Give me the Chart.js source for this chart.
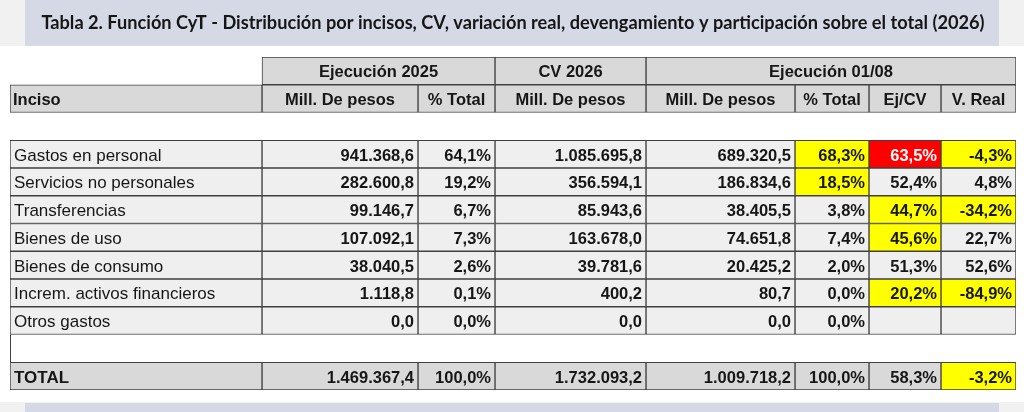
<!DOCTYPE html>
<html>
<head>
<meta charset="utf-8">
<script src="https://cdn.jsdelivr.net/npm/chart.js@4.4.1/dist/chart.umd.min.js"></script>
<style>
html,body{margin:0;padding:0;background:#ffffff;}
#wrap{width:1024px;height:412px;position:relative;}
</style>
</head>
<body>
<div id="wrap"><canvas id="c"></canvas></div>
<script>
// ---------------- DATA ----------------
const titleText = 'Tabla 2. Función CyT - Distribución por incisos, CV, variación real, devengamiento y participación sobre el total (2026)';
const groupHeaders = ['Ejecución 2025', 'CV 2026', 'Ejecución 01/08'];
const columnHeaders = ['Inciso', 'Mill. De pesos', '% Total', 'Mill. De pesos', 'Mill. De pesos', '% Total', 'Ej/CV', 'V. Real'];
const categories = ['Gastos en personal', 'Servicios no personales', 'Transferencias', 'Bienes de uso', 'Bienes de consumo', 'Increm. activos financieros', 'Otros gastos'];
const ejec2025 = [941368.6, 282600.8, 99146.7, 107092.1, 38040.5, 1118.8, 0.0];
const pct2025 = [64.1, 19.2, 6.7, 7.3, 2.6, 0.1, 0.0];
const cv2026 = [1085695.8, 356594.1, 85943.6, 163678.0, 39781.6, 400.2, 0.0];
const ejec0108 = [689320.5, 186834.6, 38405.5, 74651.8, 20425.2, 80.7, 0.0];
const pct0108 = [68.3, 18.5, 3.8, 7.4, 2.0, 0.0, 0.0];
const ejCv = [63.5, 52.4, 44.7, 45.6, 51.3, 20.2, null];
const vReal = [-4.3, 4.8, -34.2, 22.7, 52.6, -84.9, null];
const totalLabel = 'TOTAL';
const totalValues = [1469367.4, 100.0, 1732093.2, 1009718.2, 100.0, 58.3, -3.2];

// ---------------- STYLE / LAYOUT ----------------
const colWidths = [252, 156, 77, 151, 149, 74, 72, 75];
const colIsPct = [false, false, true, false, false, true, true, true];
const YEL = '#ffff00', RED = '#ff0000';
const hlPct0108 = [YEL, YEL, null, null, null, null, null];
const hlEjCv = [RED, null, YEL, YEL, null, YEL, null];
const hlVReal = [YEL, null, YEL, null, null, YEL, null];
const hlTotal = [null, null, null, null, null, null, YEL];
const HEAD_BG = '#d9d9d9', BODY_BG = '#efefef', TOTAL_BG = '#d9d9d9';
const BORDER = '#404040';
const TXT = '#161616';
const FONT = "'Liberation Sans', Arial, sans-serif";
const FS = 16.5;
const FS_LABEL = 17;

const edges = [0];
colWidths.forEach(w => edges.push(edges[edges.length - 1] + w));
const nCols = colWidths.length;

// rows: group header, column header, spacer, body..., spacer, total
const rowKeys = ['grp', 'hdr', 'sp1'].concat(categories.map((c, i) => 'b' + i)).concat(['sp2', 'tot']);
const bodyCols = categories.map((c, i) => [ejec2025[i], pct2025[i], cv2026[i], ejec0108[i], pct0108[i], ejCv[i], vReal[i]]);
const bodyHl = categories.map((c, i) => [null, null, null, null, hlPct0108[i], hlEjCv[i], hlVReal[i]]);

// group header spans (column index ranges)
const groupSpans = [[1, 3], [3, 4], [4, 8]];

function fmtNum(v) {
  const s = Math.abs(v).toFixed(1);
  const parts = s.split('.');
  const ip = parts[0].replace(/\B(?=(\d{3})+(?!\d))/g, '.');
  return (v < 0 ? '-' : '') + ip + ',' + parts[1];
}
function fmtCell(v, col) {
  if (v === null || v === undefined) return '';
  return fmtNum(v) + (colIsPct[col] ? '%' : '');
}

// build one floating-bar dataset per column
const datasets = [];
for (let c = 0; c < nCols; c++) {
  const data = [], bg = [];
  rowKeys.forEach((k, r) => {
    if (k === 'grp') {
      const span = groupSpans.find(s => s[0] === c);
      if (span) { data.push([edges[span[0]], edges[span[1]]]); bg.push(HEAD_BG); }
      else { data.push(null); bg.push('rgba(0,0,0,0)'); }
    } else if (k === 'hdr') {
      data.push([edges[c], edges[c + 1]]); bg.push(HEAD_BG);
    } else if (k === 'sp1' || k === 'sp2') {
      data.push(null); bg.push('rgba(0,0,0,0)');
    } else if (k === 'tot') {
      data.push([edges[c], edges[c + 1]]);
      bg.push(c > 0 && hlTotal[c - 1] ? hlTotal[c - 1] : TOTAL_BG);
    } else {
      const i = r - 3;
      data.push([edges[c], edges[c + 1]]);
      bg.push(c > 0 && bodyHl[i][c - 1] ? bodyHl[i][c - 1] : BODY_BG);
    }
  });
  datasets.push({
    data: data,
    backgroundColor: bg,
    borderColor: BORDER,
    borderWidth: 1,
    borderSkipped: false,
    grouped: false,
    barPercentage: 1,
    categoryPercentage: 1
  });
}

const bandPlugin = {
  id: 'band',
  beforeDraw(chart) {
    const ctx = chart.ctx, W = chart.width, H = chart.height;
    const a = chart.chartArea;
    ctx.save();
    ctx.fillStyle = '#f1f1f1';
    ctx.fillRect(0, 0, W, a.top - 11);
    ctx.fillRect(0, a.bottom + 12, W, H - a.bottom - 12);
    ctx.fillStyle = '#d5d9e6';
    ctx.fillRect(a.left + 15, 0, a.right - a.left - 32, a.top - 11);
    ctx.fillRect(a.left + 15, a.bottom + 13, a.right - a.left - 32, H - a.bottom - 13);
    ctx.restore();
  }
};

const textPlugin = {
  id: 'cellText',
  afterDatasetsDraw(chart) {
    const ctx = chart.ctx, xs = chart.scales.x, ys = chart.scales.y;
    ctx.save();
    ctx.fillStyle = TXT;
    const base = r => ys.getPixelForValue(r) + 6.5;
    const X = v => xs.getPixelForValue(v);
    // group headers
    ctx.font = 'bold ' + FS + 'px ' + FONT;
    ctx.textAlign = 'center';
    groupSpans.forEach((s, g) => {
      ctx.fillText(groupHeaders[g], (X(edges[s[0]]) + X(edges[s[1]])) / 2, base(0));
    });
    // column headers
    columnHeaders.forEach((h, c) => {
      if (c === 0) { ctx.textAlign = 'left'; ctx.fillText(h, X(edges[0]) + 3, base(1)); }
      else { ctx.textAlign = 'center'; ctx.fillText(h, (X(edges[c]) + X(edges[c + 1])) / 2, base(1)); }
    });
    // body
    categories.forEach((cat, i) => {
      const r = i + 3;
      ctx.font = FS_LABEL + 'px ' + FONT;
      ctx.textAlign = 'left';
      ctx.fillStyle = TXT;
      ctx.fillText(cat, X(edges[0]) + 4, base(r));
      ctx.font = 'bold ' + FS + 'px ' + FONT;
      ctx.textAlign = 'right';
      bodyCols[i].forEach((v, j) => {
        const c = j + 1;
        ctx.fillStyle = bodyHl[i][j] === RED ? '#ffffff' : TXT;
        ctx.fillText(fmtCell(v, c), X(edges[c + 1]) - 4, base(r));
      });
    });
    // total
    const rt = rowKeys.length - 1;
    ctx.fillStyle = TXT;
    ctx.font = 'bold ' + FS_LABEL + 'px ' + FONT;
    ctx.textAlign = 'left';
    ctx.fillText(totalLabel, X(edges[0]) + 4, base(rt));
    ctx.font = 'bold ' + FS + 'px ' + FONT;
    ctx.textAlign = 'right';
    totalValues.forEach((v, j) => {
      const c = j + 1;
      ctx.fillText(fmtCell(v, c), X(edges[c + 1]) - 4, base(rt));
    });
    // left border through the blank row before total
    ctx.strokeStyle = BORDER; ctx.lineWidth = 1;
    const step = ys.getPixelForValue(1) - ys.getPixelForValue(0);
    const y1 = ys.getPixelForValue(rt - 1) - step / 2;
    ctx.beginPath(); ctx.moveTo(X(edges[0]) + 0.5, y1); ctx.lineTo(X(edges[0]) + 0.5, y1 + step); ctx.stroke();
    ctx.restore();
  }
};

new Chart(document.getElementById('c'), {
  type: 'bar',
  data: { labels: rowKeys, datasets: datasets },
  options: {
    indexAxis: 'y',
    responsive: true,
    maintainAspectRatio: false,
    animation: false,
    events: [],
    layout: { padding: { left: 10, right: 8, top: 0, bottom: 22 } },
    scales: {
      x: { type: 'linear', min: 0, max: edges[edges.length - 1], display: false },
      y: { type: 'category', display: false, offset: true }
    },
    plugins: {
      legend: { display: false },
      tooltip: { enabled: false },
      title: {
        display: true,
        text: titleText,
        color: '#161616',
        font: { family: "Lato, 'Open Sans', sans-serif", weight: 'bold', size: 18.2, lineHeight: 1.2 },
        padding: { top: 12, bottom: 23.16 }
      }
    }
  },
  plugins: [bandPlugin, textPlugin]
});
</script>
</body>
</html>
